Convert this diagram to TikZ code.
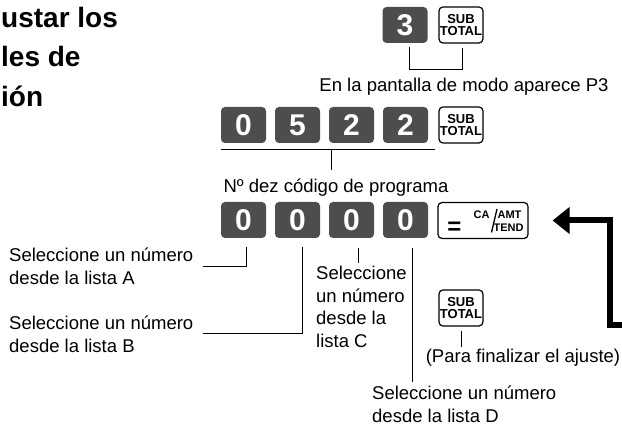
\documentclass[tikz,border=0pt]{standalone}
\usepackage{fontspec}
\setmainfont{Liberation Sans}
\usetikzlibrary{arrows.meta,calc}
\definecolor{keygray}{HTML}{4D4D4D}

\begin{document}
\begin{tikzpicture}[x=1pt,y=-1pt,
  numkey/.style={rectangle, rounded corners=4pt, fill=keygray, text=white, minimum width=45pt, minimum height=36pt, inner sep=0pt, font=\fontsize{30}{30}\selectfont\bfseries},
  subkey/.style={rectangle, rounded corners=4pt, draw, line width=1.2pt, fill=white, minimum width=44pt, minimum height=36pt, inner sep=0pt, align=center, font=\fontsize{13}{11.5}\selectfont\bfseries},
  keytxt/.style={inner sep=0pt, font=\fontsize{11}{11}\selectfont\bfseries},
  lbl/.style={anchor=north west, inner sep=0pt, align=left, font=\fontsize{18.5}{22.5}\selectfont}]
  \useasboundingbox (0,0) rectangle (622,427);

  % Titre
  \node[anchor=north west, inner sep=0pt, align=left, font=\fontsize{28}{39.5}\selectfont\bfseries] (title) at (1,7) {ustar los\\les de\\ión};

  % Ligne 1
  \node[numkey] (k3) at (405,25) {3};
  \node[subkey] (st1) at (461,25) {SUB\\TOTAL};
  \node[lbl, anchor=north] (p3txt) at (464,78) {En la pantalla de modo aparece P3};
  \draw ([xshift=4pt,yshift=-4pt]k3.south) -- ++(0,22) -| ([xshift=1pt,yshift=-4pt]st1.south);

  % Ligne 2
  \node[numkey] (p1) at (243.5,125) {0};
  \node[numkey] (p2) at (297.5,125) {5};
  \node[numkey] (p3) at (351.5,125) {2};
  \node[numkey] (p4) at (405.5,125) {2};
  \node[subkey] (st2) at (461,125) {SUB\\TOTAL};
  \node[lbl, anchor=north] (prog) at (336,179) {Nº dez código de programa};
  \draw ([yshift=-6pt]p1.south west) -- ([xshift=7pt,yshift=-6pt]p4.south east);
  \draw ([xshift=2pt,yshift=-6pt]p3.south west) -- ++(0,21);

  % Ligne 3
  \node[numkey] (s1) at (243.5,220) {0};
  \node[numkey] (s2) at (297.5,220) {0};
  \node[numkey] (s3) at (351.5,220) {0};
  \node[numkey] (s4) at (405.5,220) {0};
  \node[subkey, minimum width=90pt] (ca) at (483,220.5) {};
  \node[inner sep=0pt, font=\fontsize{24}{24}\selectfont\bfseries] (eq) at ([shift={(-28.5,8)}]ca.center) {=};
  \node[keytxt] (cat) at ([shift={(-1.5,-6)}]ca.center) {CA};
  \node[keytxt] (amt) at ([shift={(26.5,-6)}]ca.center) {AMT};
  \node[keytxt] (tend) at ([shift={(25.5,7.5)}]ca.center) {TEND};
  \draw[line width=1.3pt] ([shift={(8.5,12)}]ca.center) -- ([shift={(14,-11.5)}]ca.center);

  % Listes
  \node[lbl] (la) at (9,248) {Seleccione un número\\desde la lista A};
  \node[lbl] (lb) at (9,316) {Seleccione un número\\desde la lista B};
  \node[lbl] (lc) at (316,266) {Seleccione\\un número\\desde la\\lista C};
  \node[lbl] (ld) at (372,386) {Seleccione un número\\desde la lista D};
  \coordinate (ea) at (203,266);
  \coordinate (eb) at (203,333);
  \draw ([xshift=3pt,yshift=-9pt]s1.south) |- (ea);
  \draw ([xshift=5pt,yshift=-9pt]s2.south) |- (eb);
  \draw ([xshift=7pt,yshift=-10pt]s3.south) -- ++(0,15);
  \draw ([xshift=7pt,yshift=-10pt]s4.south) -- ++(0,134);

  % Fin
  \node[subkey] (st3) at (461,308) {SUB\\TOTAL};
  \node[lbl, anchor=north] (fin) at (523,349) {(Para finalizar el ajuste)};
  \draw ([yshift=-4pt]st3.south) -- ++(0,16);

  % Retour
  \coordinate (ret) at (622,325);
  \draw[line width=6pt, -{Triangle[length=17pt,width=26pt]}] (ret) -| ([xshift=81pt]ca.east) -- ([xshift=24pt]ca.east);
\end{tikzpicture}
\end{document}
